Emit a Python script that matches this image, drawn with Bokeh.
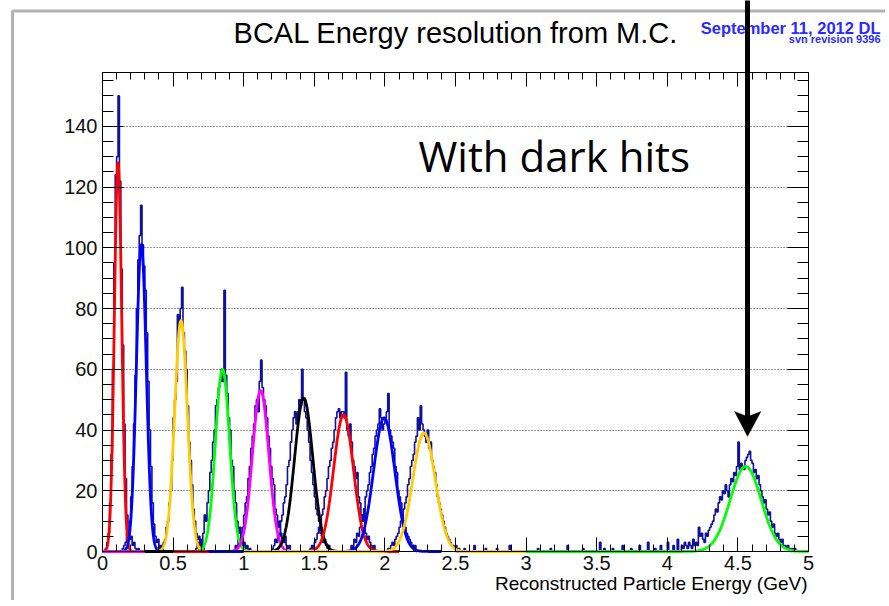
import numpy as np
from bokeh.plotting import figure
from bokeh.models import LinearAxis, SingleIntervalTicker, Label, PolyAnnotation
from bokeh.embed import file_html
from bokeh.resources import INLINE

# ---------------- data ----------------
BIN_W = 0.01

# Gaussian fit parameters (mean GeV, amplitude counts, sigma GeV)
fit_mean = [0.110, 0.275, 0.556, 0.850, 1.120, 1.425, 1.707, 1.995, 2.277, 4.555]
fit_amp = [128, 101, 76, 60, 53, 50.5, 45, 44, 39, 28]
fit_sigma = [0.026, 0.035, 0.045, 0.050, 0.058, 0.065, 0.070, 0.075, 0.080, 0.110]
fit_color = ["#ff0000", "#0000ff", "#ffcc00", "#00ff00", "#ff00ff",
             "#000000", "#ff0000", "#0000ff", "#ffcc00", "#00ff00"]
fit_lo = [0.0, 0.0, 0.2, 0.4, 0.0, 0.3, 0.5, 0.75, 1.0, 3.0]
fit_hi = [0.4, 0.6, 0.9, 1.2, 1.5, 1.8, 2.1, 2.4, 3.0, 5.0]

# histogram first-bin lower edges (GeV), bin width 0.01
hist_start = [0.02, 0.14, 0.40, 0.66, 0.94, 1.20, 1.47, 1.76, 2.02, 4.10]

h1 = [1, 3, 6, 16, 32, 60, 95, 124, 130, 150, 122, 93, 68, 42, 24, 12, 6, 4, 5, 2, 3, 1, 0, 1]
h2 = [1, 2, 3, 6, 4, 10, 18, 28, 42, 58, 80, 96, 104, 114, 101, 94, 86, 72, 56, 40,
      28, 16, 9, 5, 3, 4, 1, 2, 1]
h3 = [1, 0, 2, 3, 4, 8, 10, 16, 20, 30, 44, 50, 56, 78, 74, 80, 87, 72, 66, 60,
      48, 36, 30, 22, 14, 10, 6, 4, 5, 2, 1, 2, 0]
h4 = [1, 3, 2, 4, 2, 6, 12, 10, 16, 20, 26, 30, 36, 40, 48, 50, 54, 56, 60, 56,
      86, 58, 52, 44, 40, 30, 28, 20, 16, 10, 6, 8, 4, 2, 3, 1, 2, 0, 1, 0]
h5 = [2, 1, 4, 3, 6, 8, 12, 16, 18, 24, 28, 34, 38, 42, 48, 50, 46, 56, 63, 54,
      50, 48, 44, 38, 34, 28, 24, 22, 14, 12, 8, 10, 6, 4, 3, 5, 2, 1, 2, 0]
h6 = [1, 2, 4, 3, 6, 5, 10, 12, 16, 18, 22, 28, 30, 36, 40, 44, 46, 42, 46, 50,
      48, 60, 50, 46, 44, 40, 36, 30, 26, 22, 18, 14, 12, 10, 6, 5, 3, 4, 2, 1, 2, 0]
h7 = [1, 2, 1, 3, 4, 6, 8, 7, 12, 14, 18, 20, 24, 28, 30, 34, 36, 40, 44, 46,
      47, 44, 46, 46, 44, 59, 40, 38, 42, 36, 30, 28, 24, 26, 18, 16, 12, 10, 14, 6,
      4, 5, 3, 2, 1, 2, 0]
h8 = [2, 1, 4, 3, 6, 5, 8, 10, 12, 14, 18, 20, 22, 26, 28, 32, 34, 38, 40, 42,
      47, 44, 40, 42, 44, 46, 52, 40, 38, 36, 34, 28, 26, 20, 18, 16, 12, 10, 8, 6,
      5, 4, 3, 2, 1, 2, 0]
h9 = [1, 0, 2, 3, 2, 4, 5, 6, 8, 10, 12, 14, 16, 18, 22, 24, 28, 30, 32, 36,
      38, 44, 40, 48, 42, 40, 38, 36, 40, 34, 36, 30, 28, 26, 22, 18, 16, 14, 12, 10,
      8, 6, 5, 4, 3, 2, 2, 1, 2, 0, 1]
h10 = [2, 1, 3, 2, 1, 3, 2, 1, 4, 2, 3, 2, 8, 5, 6, 4, 3, 6, 5, 7,
       8, 9, 10, 12, 14, 13, 16, 18, 17, 20, 19, 22, 20, 18, 22, 24, 23, 26, 25, 28,
       36, 27, 29, 28, 27, 30, 31, 32, 33, 30, 29, 26, 27, 24, 25, 22, 20, 18, 16, 17,
       14, 12, 13, 10, 8, 9, 6, 5, 6, 4, 3, 4, 2, 2, 1, 2, 1, 0, 1, 0, 1]
hists = [h1, h2, h3, h4, h5, h6, h7, h8, h9, h10]

# sparse low-energy hits between the last peaks
tail_start = 2.50
tail_x = [2.56, 2.63, 2.71, 2.79, 2.88, 3.08, 3.17, 3.29, 3.40, 3.52, 3.55, 3.61,
          3.68, 3.74, 3.80, 3.86, 3.91, 3.95, 4.00, 4.04, 4.07]
tail_y = [1, 2, 1, 1, 2, 1, 1, 2, 1, 3, 1, 1, 2, 1, 2, 3, 1, 2, 3, 2, 4]

X_MIN, X_MAX = 0.0, 5.0
Y_MIN, Y_MAX = 0.0, 157.7
y_ticks_interval = 20
x_ticks_interval = 0.5

# ---------------- geometry (canvas pixels of the plot box) ----------------
W, H = 885, 600
FL, FR, FT, FB = 102.0, 808.0, 72.0, 551.0
SX = (FR - FL) / (X_MAX - X_MIN)
SY = (FB - FT) / (Y_MAX - Y_MIN)

def X(px):
    return X_MIN + (px - FL) / SX

def Y(py):
    return Y_MIN + (FB - py) / SY

p = figure(width=W, height=H, title=None,
           x_range=(X(0), X(W)), y_range=(Y(H), Y(0)),
           output_backend="svg", toolbar_location=None,
           min_border=0, min_border_left=0, min_border_right=0,
           min_border_top=0, min_border_bottom=0)
p.background_fill_color = "white"
p.border_fill_color = "white"
p.outline_line_color = None

FONT = "Liberation Sans"

def style_axis(ax, major, minor, labels=True):
    ax.axis_line_color = "black"
    ax.axis_line_width = 1
    ax.major_tick_line_color = "black"
    ax.minor_tick_line_color = "black"
    ax.major_tick_in = major
    ax.major_tick_out = 0
    ax.minor_tick_in = minor
    ax.minor_tick_out = 0
    ax.major_label_text_font = FONT
    ax.major_label_text_font_size = "20px"
    ax.major_label_text_color = "#111111" if labels else None
    ax.major_label_text_font_style = "normal"
    ax.major_label_standoff = 5

xa = p.xaxis[0]
xa.ticker = SingleIntervalTicker(interval=x_ticks_interval, num_minor_ticks=5)
xa.fixed_location = Y_MIN
xa.bounds = (X_MIN, X_MAX)
style_axis(xa, 14, 7)
xa.major_label_standoff = 4

ya = p.yaxis[0]
ya.ticker = SingleIntervalTicker(interval=y_ticks_interval, num_minor_ticks=4)
ya.fixed_location = X_MIN
ya.bounds = (Y_MIN, Y_MAX)
style_axis(ya, 21, 11)

top = LinearAxis(ticker=SingleIntervalTicker(interval=x_ticks_interval, num_minor_ticks=5),
                 fixed_location=Y_MAX, bounds=(X_MIN, X_MAX))
style_axis(top, 14, 7, labels=False)
p.add_layout(top, "above")
right = LinearAxis(ticker=SingleIntervalTicker(interval=y_ticks_interval, num_minor_ticks=4),
                   fixed_location=X_MAX, bounds=(Y_MIN, Y_MAX))
style_axis(right, 21, 11, labels=False)
p.add_layout(right, "right")

p.xgrid.visible = False
p.ygrid.ticker = ya.ticker
p.ygrid.bounds = (Y_MIN, Y_MAX)
p.ygrid.cross_bounds = (X_MIN, X_MAX)
p.ygrid.grid_line_color = "#333333"
p.ygrid.grid_line_dash = "1 2"
p.ygrid.grid_line_width = 1

# ---------------- histograms ----------------
def step_path(start, counts):
    c = np.asarray(counts, dtype=float)
    edges = start + BIN_W * np.arange(len(c) + 1)
    xs = np.repeat(edges, 2)[1:-1]
    ys = np.repeat(c, 2)
    xs = np.concatenate([[edges[0]], xs, [edges[-1]]])
    ys = np.concatenate([[0.0], ys, [0.0]])
    return xs, ys

HCOL = "#10109e"
for s, h in zip(hist_start, hists):
    xs, ys = step_path(s, h)
    p.line(xs, ys, line_color=HCOL, line_width=1.6)

tail_counts = np.zeros(int(round((hist_start[-1] - tail_start) / BIN_W)))
for tx, ty in zip(tail_x, tail_y):
    tail_counts[int(round((tx - tail_start) / BIN_W))] = ty
xs, ys = step_path(tail_start, tail_counts)
p.line(xs, ys, line_color=HCOL, line_width=1.6)

# ---------------- gaussian fits ----------------
for m, a, sg, col, lo, hi in zip(fit_mean, fit_amp, fit_sigma, fit_color, fit_lo, fit_hi):
    fx = np.linspace(lo, hi, 600)
    fy = a * np.exp(-0.5 * ((fx - m) / sg) ** 2)
    p.line(fx, fy, line_color=col, line_width=2.8)

# ---------------- texts (y = vertical centre of the capitals) ----------------
p.add_layout(Label(x=X(455.5), y=Y(32), text="BCAL Energy resolution from M.C.",
                   text_font=FONT, text_font_size="29px", text_color="black",
                   text_align="center", text_baseline="middle"))
p.add_layout(Label(x=X(880), y=Y(27.3), text="September 11, 2012 DL",
                   text_font=FONT, text_font_size="16.5px", text_font_style="bold",
                   text_color="#2a2aff", text_align="right", text_baseline="middle"))
p.add_layout(Label(x=X(880), y=Y(38.5), text="svn revision 9396",
                   text_font=FONT, text_font_size="11px", text_font_style="bold",
                   text_color="#2a2aff", text_align="right", text_baseline="middle"))
p.add_layout(Label(x=X(418), y=Y(154.7), text="With dark hits",
                   text_font="Open Sans", text_font_size="42px", text_color="black",
                   text_align="left", text_baseline="middle"))
p.add_layout(Label(x=X(807), y=Y(583.3), text="Reconstructed Particle Energy (GeV)",
                   text_font=FONT, text_font_size="19px", text_color="black",
                   text_align="right", text_baseline="middle"))

# ---------------- decorations: page box and arrow ----------------
p.add_layout(PolyAnnotation(xs=[X(12), X(12), X(1200), X(1200)],
                            ys=[Y(900), Y(10.5), Y(10.5), Y(900)],
                            fill_alpha=0, line_color="black", line_width=3))
p.add_layout(PolyAnnotation(xs=[X(744.5), X(749.5), X(749.5), X(744.5)],
                            ys=[Y(-20), Y(-20), Y(418), Y(418)],
                            fill_color="black", fill_alpha=1, line_color=None))
p.add_layout(PolyAnnotation(xs=[X(734), X(747), X(760.5), X(747)],
                            ys=[Y(411), Y(416), Y(411), Y(436)],
                            fill_color="black", fill_alpha=1, line_color="black", line_width=1))

open("out.html", "w").write(file_html(p, INLINE))
